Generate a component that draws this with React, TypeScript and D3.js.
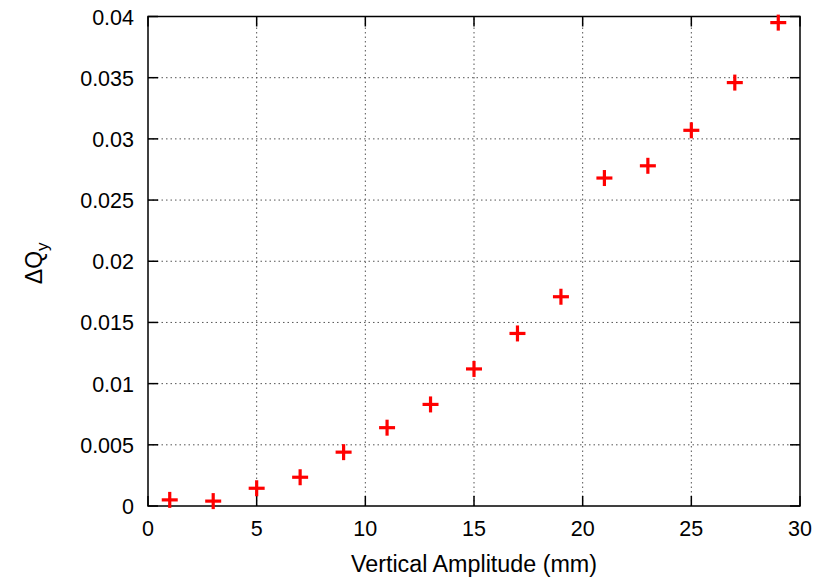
import React from "react";
import * as d3 from "d3";

const amplitudes = [1, 3, 5, 7, 9, 11, 13, 15, 17, 19, 21, 23, 25, 27, 29];
const deltaQy = [0.0005, 0.0004, 0.00145, 0.00235, 0.0044, 0.0064, 0.0083, 0.0112, 0.0141, 0.0171, 0.0268, 0.0278, 0.0307, 0.0346, 0.0395];
const xTicks = [0, 5, 10, 15, 20, 25, 30];
const yTicks = [0, 0.005, 0.01, 0.015, 0.02, 0.025, 0.03, 0.035, 0.04];
const xTickLabels = ["0", "5", "10", "15", "20", "25", "30"];
const yTickLabels = ["0", "0.005", "0.01", "0.015", "0.02", "0.025", "0.03", "0.035", "0.04"];

const W = 820, H = 577;
const L = 148, R = 800, T = 16.5, B = 506;

export default function App() {
  const x = d3.scaleLinear().domain([0, 30]).range([L, R]);
  const y = d3.scaleLinear().domain([0, 0.04]).range([B, T]);
  const font = "'Liberation Sans', Arial, Helvetica, sans-serif";
  const tl = 10;
  const ms = 8;
  const fs = 21.5;
  return (
    <svg width={W} height={H} style={{ position: "absolute", left: 0, top: 0, background: "#fff" }}>
      <rect x={0} y={0} width={W} height={H} fill="#fff" />
      {xTicks.slice(1, -1).map((t) => (
        <line key={"gx" + t} x1={x(t)} x2={x(t)} y1={B} y2={T} stroke="#555" strokeWidth={1} strokeDasharray="1.5,3" />
      ))}
      {yTicks.slice(1, -1).map((t) => (
        <line key={"gy" + t} x1={L} x2={R} y1={y(t)} y2={y(t)} stroke="#555" strokeWidth={1} strokeDasharray="1.5,3" />
      ))}
      {xTicks.map((t) => (
        <g key={"tx" + t}>
          <line x1={x(t)} x2={x(t)} y1={B} y2={B - tl} stroke="#000" strokeWidth={1.5} />
          <line x1={x(t)} x2={x(t)} y1={T} y2={T + tl} stroke="#000" strokeWidth={1.5} />
        </g>
      ))}
      {yTicks.map((t) => (
        <g key={"ty" + t}>
          <line x1={L} x2={L + tl} y1={y(t)} y2={y(t)} stroke="#000" strokeWidth={1.5} />
          <line x1={R} x2={R - tl} y1={y(t)} y2={y(t)} stroke="#000" strokeWidth={1.5} />
        </g>
      ))}
      <rect x={L} y={T} width={R - L} height={B - T} fill="none" stroke="#000" strokeWidth={1.5} />
      {xTicks.map((t, i) => (
        <text key={"lx" + t} x={x(t)} y={B + 30} textAnchor="middle" fontFamily={font} fontSize={fs} fill="#000">
          {xTickLabels[i]}
        </text>
      ))}
      {yTicks.map((t, i) => (
        <text key={"ly" + t} x={L - 14} y={y(t) + 8} textAnchor="end" fontFamily={font} fontSize={fs} fill="#000">
          {yTickLabels[i]}
        </text>
      ))}
      <text x={(L + R) / 2} y={572} textAnchor="middle" fontFamily={font} fontSize={23.3} fill="#000">
        Vertical Amplitude (mm)
      </text>
      <text transform={`translate(42, ${(T + B) / 2 + 2}) rotate(-90)`} textAnchor="middle" fontFamily={font} fontSize={23} fill="#000">
        ΔQ<tspan fontSize={17} dy={6}>y</tspan>
      </text>
      {amplitudes.map((a, i) => (
        <g key={"p" + i} stroke="#f00" strokeWidth={3.2}>
          <line x1={x(a) - ms} x2={x(a) + ms} y1={y(deltaQy[i])} y2={y(deltaQy[i])} />
          <line x1={x(a)} x2={x(a)} y1={y(deltaQy[i]) - ms} y2={y(deltaQy[i]) + ms} />
        </g>
      ))}
    </svg>
  );
}
